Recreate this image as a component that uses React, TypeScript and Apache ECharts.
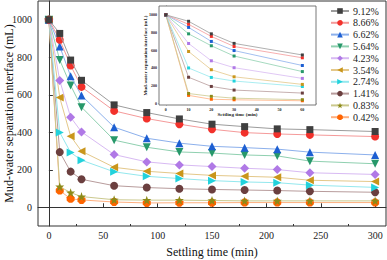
import React, { useEffect, useRef } from "react";
import * as echarts from "echarts";

const times = [0, 10, 20, 30, 60, 90, 120, 150, 180, 210, 240, 300];
const seriesNames = ["9.12%", "8.66%", "6.62%", "5.64%", "4.23%", "3.54%", "2.74%", "1.41%", "0.83%", "0.42%"];
const s912 = [1000, 927, 785, 677, 546, 505, 471, 443, 430, 418, 414, 404];
const s866 = [1000, 893, 756, 642, 514, 473, 443, 416, 398, 391, 386, 377];
const s662 = [1000, 858, 699, 596, 427, 368, 342, 325, 318, 310, 294, 279];
const s564 = [1000, 785, 650, 534, 358, 320, 295, 289, 279, 274, 246, 232];
const s423 = [1000, 676, 480, 402, 281, 242, 226, 217, 208, 201, 184, 175];
const s354 = [1000, 585, 379, 299, 213, 192, 180, 170, 165, 160, 144, 137];
const s274 = [1000, 399, 292, 251, 189, 165, 153, 142, 135, 131, 118, 106];
const s141 = [1000, 294, 190, 149, 115, 105, 99, 95, 92, 89, 85, 80];
const s083 = [1000, 110, 78, 57, 40, 38, 38, 36, 34, 34, 34, 34];
const s042 = [1000, 89, 45, 39, 28, 23, 24, 24, 25, 25, 25, 25];
const allValues = [s912, s866, s662, s564, s423, s354, s274, s141, s083, s042];

const mainXTicks = [0, 50, 100, 150, 200, 250, 300];
const mainXMinor = [25, 75, 125, 175, 225, 275];
const mainYTicks = [0, 200, 400, 600, 800, 1000];
const insetXTicks = [0, 10, 20, 30, 40, 50, 60];
const insetYTicks = [0, 200, 400, 600, 800, 1000];
const insetMaxTime = 60;

const symbolColors = ["#3f3f3f", "#f2312b", "#1d5fd2", "#27986a", "#b079e6", "#c9961c", "#22d2dc", "#6b3f3f", "#8c8a18", "#ff6400"];
const lineColors = ["#9c9c9c", "#f59a9a", "#8cb0ec", "#8fd0b0", "#d8baf3", "#e4c88a", "#94e8ee", "#b89c9c", "#cbc98e", "#ffb080"];
const symbols = [
  "rect",
  "circle",
  "triangle",
  "path://M0,0 L10,0 L5,9 Z",
  "diamond",
  "path://M0,5 L9,0 L9,10 Z",
  "path://M9,5 L0,0 L0,10 Z",
  "circle",
  "path://M0,-10 L2.35,-3.24 L9.51,-3.09 L3.8,1.24 L5.88,8.09 L0,4 L-5.88,8.09 L-3.8,1.24 L-9.51,-3.09 L-2.35,-3.24 Z",
  "path://M-4,-10 L4,-10 L10,-4 L10,4 L4,10 L-4,10 L-10,4 L-10,-4 Z",
];
const symbolSizes = [7, 8, 8, 8, 9, 8, 8, 8, 9, 8];

const FONT = "Liberation Serif";
const plain = (v: number) => String(v);

export default function App() {
  const ref = useRef<HTMLDivElement>(null);
  useEffect(() => {
    if (!ref.current) return;
    const chart = echarts.init(ref.current, undefined, { renderer: "svg" });
    const mainSeries = seriesNames.map((name, i) => ({
      name,
      type: "line",
      xAxisIndex: 0,
      yAxisIndex: 0,
      data: times.map((t, j) => [t, allValues[i][j]]),
      symbol: symbols[i],
      symbolSize: symbolSizes[i],
      itemStyle: { color: symbolColors[i] },
      lineStyle: { color: lineColors[i], width: 1 },
      z: 20 - i,
    }));
    const insetSeries = seriesNames.map((name, i) => ({
      name,
      type: "line",
      xAxisIndex: 2,
      yAxisIndex: 1,
      data: times.filter((t) => t <= insetMaxTime).map((t, j) => [t, allValues[i][j]]),
      symbol: "rect",
      symbolSize: 3,
      itemStyle: { color: symbolColors[i] },
      lineStyle: { color: lineColors[i], width: 0.8 },
      z: 40 - i,
    }));
    const axisLine = { show: true, lineStyle: { color: "#333", width: 1 } };
    chart.setOption({
      animation: false,
      backgroundColor: "#fff",
      grid: [
        { left: 38, top: 1, width: 348, height: 225, show: true, borderColor: "#333", borderWidth: 1, backgroundColor: "transparent", containLabel: false, outerBoundsMode: "none" },
        { left: 159, top: 6, width: 157, height: 99, show: true, borderColor: "#555", borderWidth: 0.8, backgroundColor: "#fff", z: 30, containLabel: false, outerBoundsMode: "none" },
      ],
      legend: {
        orient: "vertical",
        left: 330,
        top: 6,
        itemWidth: 18,
        itemHeight: 7,
        itemGap: 1.8,
        data: seriesNames,
        textStyle: { fontFamily: FONT, fontSize: 10, color: "#222", lineHeight: 10, padding: [0, 0, 0, -1] },
        padding: 0,
      },
      xAxis: [
        {
          type: "value", gridIndex: 0, min: -10, max: 310,
          axisLine, splitLine: { show: false },
          axisTick: { show: true, inside: true, length: 4, customValues: mainXTicks, lineStyle: { color: "#333" } },
          axisLabel: { customValues: mainXTicks, formatter: plain, fontFamily: FONT, fontSize: 10, color: "#222", margin: 4 },
          name: "Settling time (min)", nameLocation: "middle", nameGap: 20, nameMoveOverlap: false,
          nameTextStyle: { fontFamily: FONT, fontSize: 12, color: "#111" },
        },
        {
          type: "value", gridIndex: 0, min: -10, max: 310, position: "bottom",
          axisLine: { show: false }, splitLine: { show: false },
          axisTick: { show: true, inside: true, length: 2, customValues: mainXMinor, lineStyle: { color: "#333" } },
          axisLabel: { show: false },
        },
        {
          type: "value", gridIndex: 1, min: -3, max: 66,
          axisLine: { show: true, lineStyle: { color: "#555", width: 0.8 } }, splitLine: { show: false },
          axisTick: { show: true, inside: true, length: 1.5, customValues: insetXTicks, lineStyle: { color: "#555", width: 0.6 } },
          axisLabel: { customValues: insetXTicks, formatter: plain, fontFamily: FONT, fontSize: 4, fontWeight: "bold", color: "#222", margin: 2 },
          name: "Settling time (min)", nameLocation: "middle", nameGap: 7, nameMoveOverlap: false,
          nameTextStyle: { fontFamily: FONT, fontSize: 5, fontWeight: "bold", color: "#222" },
        },
      ],
      yAxis: [
        {
          type: "value", gridIndex: 0, min: -100, max: 1100,
          axisLine, splitLine: { show: false },
          axisTick: { show: true, inside: true, length: 4, customValues: mainYTicks, lineStyle: { color: "#333" } },
          axisLabel: { customValues: mainYTicks, formatter: plain, fontFamily: FONT, fontSize: 10, color: "#222", margin: 6 },
          name: "Mud-water separation interface (mL)", nameLocation: "middle", nameGap: 23, nameMoveOverlap: false,
          nameTextStyle: { fontFamily: FONT, fontSize: 12, color: "#111" },
        },
        {
          type: "value", gridIndex: 1, min: -20, max: 1100,
          axisLine: { show: true, lineStyle: { color: "#555", width: 0.8 } }, splitLine: { show: false },
          axisTick: { show: true, inside: true, length: 1.5, customValues: insetYTicks, lineStyle: { color: "#555", width: 0.6 } },
          axisLabel: { customValues: insetYTicks, formatter: plain, fontFamily: FONT, fontSize: 4, fontWeight: "bold", color: "#222", margin: 2 },
          name: "Mud-water separation interface (mL)", nameLocation: "middle", nameGap: 11, nameMoveOverlap: false,
          nameTextStyle: { fontFamily: FONT, fontSize: 5, fontWeight: "bold", color: "#222" },
        },
      ],
      series: [...mainSeries, ...insetSeries],
    });
    return () => chart.dispose();
  }, []);
  return <div ref={ref} style={{ position: "fixed", left: 0, top: 0, width: 387, height: 260 }} />;
}
